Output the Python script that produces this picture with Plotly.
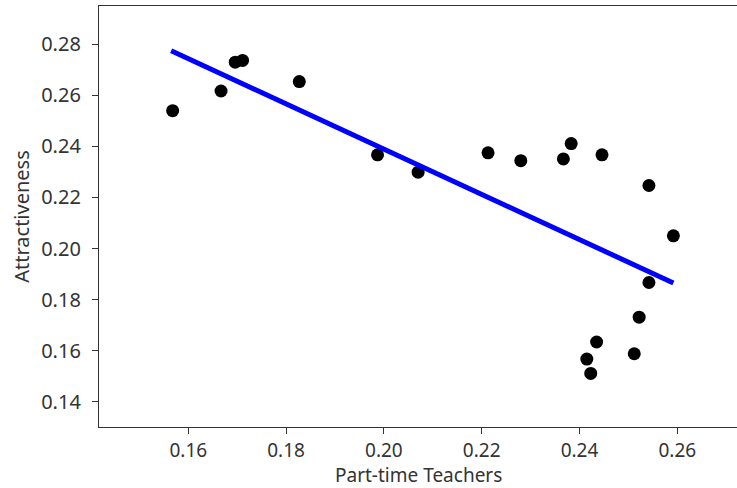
import plotly.graph_objects as go

# Share of part-time teachers vs. attractiveness score, one point per school
part_time = [0.1568, 0.1667, 0.1696, 0.1711, 0.1827, 0.1987, 0.2070, 0.2213,
             0.2280, 0.2367, 0.2383, 0.2446, 0.2542, 0.2592, 0.2542, 0.2522,
             0.2435, 0.2415, 0.2423, 0.2512]
attractiveness = [0.2540, 0.2617, 0.2730, 0.2737, 0.2654, 0.2367, 0.2299, 0.2375,
                  0.2344, 0.2351, 0.2411, 0.2367, 0.2247, 0.2050, 0.1867, 0.1731,
                  0.1634, 0.1567, 0.1511, 0.1588]

# Fitted regression line, evaluated at the ends of the data range
fit_x = [0.1565, 0.2592]
fit_y = [0.2775, 0.1865]

x_ticks = [0.16, 0.18, 0.20, 0.22, 0.24, 0.26]
y_ticks = [0.14, 0.16, 0.18, 0.20, 0.22, 0.24, 0.26, 0.28]

FONT = "Noto Sans"
TICK_SIZE = 20
XTITLE_SIZE = 19
INK = "#333333"

fig = go.Figure()
fig.add_trace(go.Scatter(
    x=part_time, y=attractiveness, mode="markers",
    marker=dict(color="black", size=13, line=dict(width=0)),
    showlegend=False, hoverinfo="x+y",
))
fig.add_trace(go.Scatter(
    x=fit_x, y=fit_y, mode="lines",
    line=dict(color="#0000ff", width=5),
    showlegend=False, hoverinfo="skip",
))

axis_common = dict(
    showgrid=False, zeroline=False,
    showline=True, linecolor=INK, linewidth=1.3,
    ticks="outside", ticklen=6, tickwidth=1.2, tickcolor=INK,
)

fig.update_layout(
    width=737, height=488,
    margin=dict(l=99, r=0, t=6, b=61),
    paper_bgcolor="white", plot_bgcolor="white",
    font=dict(family=FONT, size=TICK_SIZE, color=INK),
    xaxis=dict(
        range=[0.14174, 0.27221], tickvals=x_ticks,
        ticktext=[f"{v:.2f}" for v in x_ticks],
        mirror=True, ticklabelstandoff=0,
        tickfont=dict(family=FONT, size=TICK_SIZE - 1, color=INK),
        **axis_common,
    ),
    yaxis=dict(
        range=[0.1301, 0.2950], tickvals=y_ticks,
        ticktext=[f"{v:.2f}" for v in y_ticks],
        ticklabelstandoff=7,
        tickfont=dict(family=FONT, size=TICK_SIZE, color=INK),
        title=dict(text="Attractiveness",
                   font=dict(family=FONT, size=TICK_SIZE, color=INK),
                   standoff=6),
        **axis_common,
    ),
    annotations=[dict(
        text="Part-time Teachers", showarrow=False,
        xref="paper", yref="paper", x=0.5, y=0,
        xanchor="center", yanchor="bottom", yshift=-63,
        font=dict(family=FONT, size=XTITLE_SIZE, color=INK),
    )],
)

fig.write_html("out.html")
